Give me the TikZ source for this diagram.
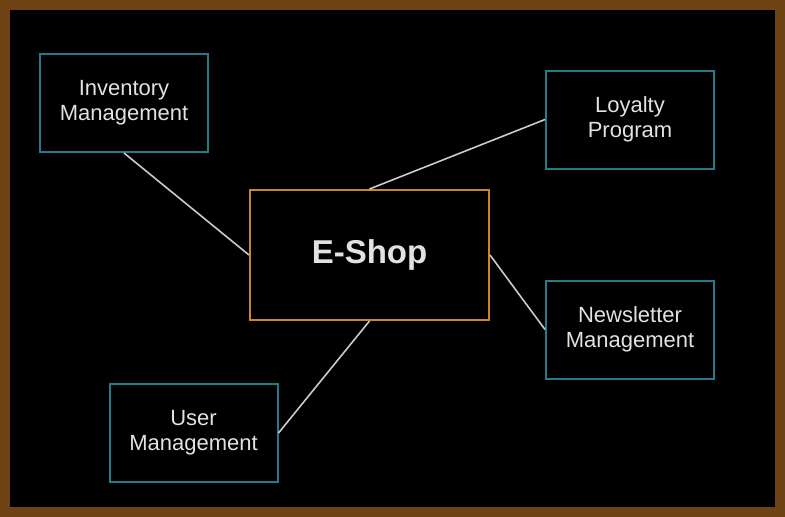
\documentclass[tikz,border=0pt]{standalone}
\usepackage{fontspec}
\setmainfont{Liberation Sans}
\definecolor{frame}{HTML}{6F4214}
\definecolor{tealline}{HTML}{227C8A}
\definecolor{hubline}{HTML}{C8862F}
\definecolor{fg}{HTML}{E2E2E2}
\tikzstyle{module}=[rectangle,draw=tealline,line width=2pt,fill=black,text=fg,minimum width=168pt,minimum height=98pt,align=center,inner sep=0pt,font=\fontsize{22}{25}\selectfont]
\tikzstyle{hub}=[rectangle,draw=hubline,line width=2pt,fill=black,text=fg,minimum width=239pt,minimum height=130pt,inner sep=0pt,font=\fontsize{33}{38}\selectfont\bfseries]
\tikzstyle{link}=[draw=fg!90!black,line width=1.6pt]

\begin{document}
\begin{tikzpicture}[x=1pt,y=-1pt]
                \useasboundingbox (0,0) rectangle (785,517);
                \fill[frame] (0,0) rectangle (785,517);
                \fill[black] (10,10) rectangle (775,507);
                \path node[hub] (S) at (369.5,255) {E-Shop}
                    (124,103) node[module] (I) {Inventory\\Management}
                    (630,119.5) node[module] (L) {Loyalty\\Program}
                    (630,329.5) node[module] (N) {Newsletter\\Management}
                    (193.5,433) node[module] (U) {User\\Management}
                    ;
                \path (I.south) edge[link] (S.west)
                    (L.west) edge[link] (S.north)
                    (N.west) edge[link] (S.east)
                    (U.east) edge[link] (S.south)
                    ;
            \end{tikzpicture}
\end{document}
